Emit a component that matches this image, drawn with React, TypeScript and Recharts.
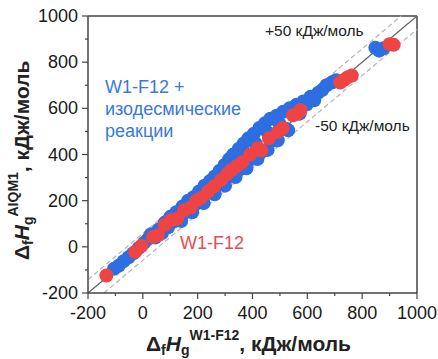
import React from "react";
import { ScatterChart, Scatter, XAxis, YAxis, ReferenceLine } from "recharts";

// W1-F12 + isodesmic reactions (blue)
const blueW1 = [-105, -88, -70, -52, -35, -15, 5, 20, 30, 45, 58, 70, 80, 92, 100, 112, 122, 135, 145, 155, 165, 175, 185, 195, 205, 215, 225, 232, 245, 252, 262, 270, 280, 288, 298, 305, 315, 322, 330, 340, 350, 358, 368, 375, 385, 395, 405, 412, 425, 432, 445, 455, 465, 475, 488, 498, 512, 522, 535, 548, 560, 572, 585, 598, 612, 625, 640, 655, 670, 690, 705, 848, 862, 878, 140, 180, 222, 262, 300, 338, 378, 418, 455, 492, 530];
const blueAIQM = [-95, -82, -62, -45, -28, -5, 18, 35, 55, 40, 75, 60, 105, 85, 130, 110, 150, 135, 175, 150, 200, 180, 215, 187, 240, 210, 265, 235, 285, 242, 305, 270, 330, 273, 355, 315, 380, 307, 400, 360, 425, 338, 448, 400, 470, 380, 490, 447, 515, 412, 535, 495, 555, 460, 568, 533, 585, 512, 600, 583, 615, 577, 630, 618, 650, 635, 668, 680, 700, 712, 722, 862, 850, 860, 112, 150, 190, 228, 265, 302, 340, 380, 420, 462, 505];

// W1-F12 (red)
const redW1 = [-133, -28, -5, 37, 55, 80, 103, 125, 150, 175, 195, 212, 238, 260, 285, 307, 322, 343, 362, 392, 420, 432, 460, 493, 510, 548, 562, 575, 720, 735, 748, 762, 900, 915];
const redAIQM = [-124, -22, 5, 43, 50, 95, 116, 122, 158, 170, 200, 212, 240, 262, 290, 315, 332, 350, 366, 400, 428, 418, 470, 498, 515, 570, 576, 592, 712, 724, 735, 742, 878, 875];

const axisTicks = [-200, -100, 0, 100, 200, 300, 400, 500, 600, 700, 800, 900, 1000];
const majorTicks = [-200, 0, 200, 400, 600, 800, 1000];
const offset = 58;

const blueData = blueW1.map((x, i) => ({ x, y: blueAIQM[i] }));
const redData = redW1.map((x, i) => ({ x, y: redAIQM[i] }));

const FONT = "'Liberation Sans', Arial, sans-serif";
const BLUE = "#2d6ee2";
const RED = "#f04444";
const AXIS = "#444";

const Dot = (color: string) => (props: any) => (
  <circle cx={props.cx} cy={props.cy} r={7} fill={color} />
);

const XTick = (props: any) => {
  const { x, y, payload } = props;
  const major = majorTicks.includes(payload.value);
  return (
    <g>
      <line x1={x} x2={x} y1={y} y2={y + (major ? 6 : 3)} stroke={AXIS} strokeWidth={1.2} />
      {major && (
        <text x={x} y={y + 20} textAnchor="middle" dominantBaseline="central" fontSize={18} fill="#1a1a1a" fontFamily={FONT}>
          {payload.value}
        </text>
      )}
    </g>
  );
};

const YTick = (props: any) => {
  const { x, y, payload } = props;
  const major = majorTicks.includes(payload.value);
  return (
    <g>
      <line x1={x} x2={x - (major ? 6 : 3)} y1={y} y2={y} stroke={AXIS} strokeWidth={1.2} />
      {major && (
        <text x={x - 10} y={y} textAnchor="end" dominantBaseline="central" fontSize={18} fill="#1a1a1a" fontFamily={FONT}>
          {payload.value}
        </text>
      )}
    </g>
  );
};

export default function App() {
  return (
    <div style={{ position: "absolute", left: 0, top: 0, width: 438, height: 359, background: "#fff", fontFamily: FONT }}>
      <ScatterChart width={438} height={359} margin={{ top: 16, right: 21, bottom: 36, left: 28 }}>
        <XAxis
          type="number"
          dataKey="x"
          domain={[-200, 1000]}
          ticks={axisTicks}
          interval={0}
          allowDataOverflow
          height={30}
          tickSize={0}
          tickMargin={0}
          tickLine={false}
          tick={<XTick />}
          axisLine={{ stroke: AXIS, strokeWidth: 1.5 }}
        />
        <YAxis
          type="number"
          dataKey="y"
          domain={[-200, 1000]}
          ticks={axisTicks}
          interval={0}
          allowDataOverflow
          width={60}
          tickSize={0}
          tickMargin={0}
          tickLine={false}
          tick={<YTick />}
          axisLine={{ stroke: AXIS, strokeWidth: 1.5 }}
        />
        <ReferenceLine y={1000} stroke={AXIS} strokeWidth={1.5} />
        <ReferenceLine x={1000} stroke={AXIS} strokeWidth={1.5} />
        <ReferenceLine
          segment={[{ x: -200, y: -200 + offset }, { x: 1000 - offset, y: 1000 }]}
          stroke="#b5b5b5"
          strokeDasharray="5 3"
          strokeWidth={1.2}
        />
        <ReferenceLine
          segment={[{ x: -200 + offset, y: -200 }, { x: 1000, y: 1000 - offset }]}
          stroke="#b5b5b5"
          strokeDasharray="5 3"
          strokeWidth={1.2}
        />
        <ReferenceLine
          segment={[{ x: -200, y: -200 }, { x: 1000, y: 1000 }]}
          stroke="#666"
          strokeWidth={1.3}
        />
        <Scatter data={blueData} fill={BLUE} shape={Dot(BLUE)} isAnimationActive={false} />
        <Scatter data={redData} fill={RED} shape={Dot(RED)} isAnimationActive={false} />
      </ScatterChart>
      <svg width={438} height={359} style={{ position: "absolute", left: 0, top: 0, pointerEvents: "none" }} fontFamily={FONT}>
        <text x={105} y={93} fontSize={18} fill="#3a78dc">W1-F12 +</text>
        <text x={105} y={115} fontSize={18} fill="#3a78dc">изодесмические</text>
        <text x={105} y={137} fontSize={18} fill="#3a78dc">реакции</text>
        <text x={180} y={249} fontSize={18} fill="#e84a55">W1-F12</text>
        <text x={265} y={36} fontSize={15.5} fill="#222">+50 кДж/моль</text>
        <text x={315} y={131} fontSize={15.5} fill="#222">-50 кДж/моль</text>
        <text x={146} y={351} fontSize={21} fontWeight="bold" fill="#222">
          <tspan>Δ</tspan>
          <tspan fontSize={14} dy={4}>f</tspan>
          <tspan dy={-4} fontStyle="italic">H</tspan>
          <tspan fontSize={14} dy={4}>g</tspan>
          <tspan fontSize={14} dy={-15}>W1-F12</tspan>
          <tspan dy={11}>, кДж/моль</tspan>
        </text>
        <text transform="translate(29,260) rotate(-90)" x={0} y={0} fontSize={21} fontWeight="bold" fill="#222">
          <tspan>Δ</tspan>
          <tspan fontSize={14} dy={4}>f</tspan>
          <tspan dy={-4} fontStyle="italic">H</tspan>
          <tspan fontSize={14} dy={4}>g</tspan>
          <tspan fontSize={14} dy={-15}>AIQM1</tspan>
          <tspan dy={11}>, кДж/моль</tspan>
        </text>
      </svg>
    </div>
  );
}
